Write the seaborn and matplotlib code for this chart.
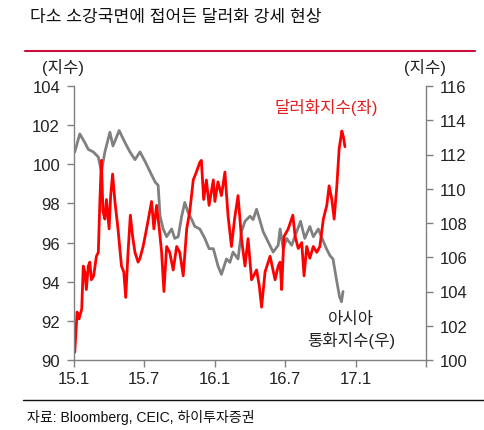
import matplotlib
matplotlib.use("Agg")
import matplotlib.pyplot as plt
import seaborn as sns
import pandas as pd

sns.set_style("white")
plt.rcParams['font.family'] = ['Liberation Sans', 'Noto Sans CJK KR', 'DejaVu Sans']

usd_dates = ["2015-01-03","2015-01-06","2015-01-09","2015-01-14","2015-01-21","2015-01-25","2015-01-29",
             "2015-02-02","2015-02-07","2015-02-11","2015-02-15","2015-02-21","2015-02-28","2015-03-05",
             "2015-03-09","2015-03-13","2015-03-17","2015-03-22","2015-03-26","2015-04-02","2015-04-06",
             "2015-04-11","2015-04-17","2015-04-25","2015-05-04","2015-05-10","2015-05-15","2015-05-21",
             "2015-05-27","2015-06-02","2015-06-08","2015-06-16","2015-06-21","2015-06-29","2015-07-08",
             "2015-07-21","2015-07-27","2015-08-03","2015-08-10","2015-08-16","2015-08-22","2015-08-29",
             "2015-09-06","2015-09-15","2015-09-24","2015-10-02","2015-10-11","2015-10-20","2015-10-28",
             "2015-11-06","2015-11-14","2015-11-23","2015-11-27","2015-12-03","2015-12-10","2015-12-17",
             "2015-12-28","2016-01-01","2016-01-09","2016-01-18","2016-01-27","2016-02-04","2016-02-13",
             "2016-02-21","2016-03-01","2016-03-10","2016-03-19","2016-03-27","2016-04-05","2016-04-18",
             "2016-04-25","2016-05-01","2016-05-10","2016-05-23","2016-06-05","2016-06-13","2016-06-18",
             "2016-06-22","2016-06-28","2016-07-09","2016-07-21","2016-07-27","2016-08-04","2016-08-13",
             "2016-08-19","2016-08-26","2016-09-03","2016-09-12","2016-09-21","2016-09-29","2016-10-08",
             "2016-10-17","2016-10-23","2016-10-30","2016-11-05","2016-11-12","2016-11-18","2016-11-25",
             "2016-11-29","2016-12-03"]
usd_vals = [90.4,91.4,92.45,92.1,92.6,94.8,94.5,
            93.6,94.8,95.0,94.1,94.3,95.3,95.5,
            98.1,100.2,97.6,97.2,98.2,96.7,98.4,
            99.5,98.1,96.7,94.8,94.5,93.2,95.5,
            97.4,96.3,95.5,95.0,95.2,95.8,96.7,
            98.1,96.7,97.9,96.7,95.5,93.5,95.8,
            95.5,94.6,95.8,95.5,94.3,96.7,97.6,
            99.2,99.6,100.1,100.2,98.2,99.2,97.9,
            99.2,98.1,99.1,98.4,99.6,97.4,95.8,
            97.2,98.4,96.2,94.8,96.2,94.1,94.6,
            93.8,92.7,94.5,95.3,94.1,94.8,95.0,
            93.6,96.3,96.7,97.4,96.3,95.7,96.0,
            94.3,95.8,95.2,95.8,95.5,95.8,97.2,
            97.9,98.9,98.2,97.2,98.9,100.8,101.7,
            101.4,100.9]

asia_dates = ["2015-01-03","2015-01-16","2015-01-29","2015-02-07","2015-02-20","2015-03-05","2015-03-13",
              "2015-03-22","2015-04-04","2015-04-12","2015-04-28","2015-05-13","2015-05-26","2015-06-08",
              "2015-06-21","2015-07-04","2015-07-17","2015-07-30","2015-08-07","2015-08-12","2015-08-20",
              "2015-08-29","2015-09-11","2015-09-19","2015-09-28","2015-10-07","2015-10-15","2015-10-24",
              "2015-11-02","2015-11-10","2015-11-23","2015-12-06","2015-12-17","2015-12-28","2016-01-09",
              "2016-01-18","2016-01-31","2016-02-09","2016-02-17","2016-03-01","2016-03-10","2016-03-19",
              "2016-04-01","2016-04-09","2016-04-18","2016-04-26","2016-05-05","2016-05-18","2016-05-31",
              "2016-06-13","2016-06-18","2016-06-26","2016-07-05","2016-07-18","2016-07-31","2016-08-10",
              "2016-08-21","2016-09-03","2016-09-12","2016-09-25","2016-10-03","2016-10-16","2016-10-25",
              "2016-11-02","2016-11-11","2016-11-19","2016-11-24","2016-11-28"]
asia_vals = [112.15,113.2,112.7,112.3,112.15,111.85,111.0,
             112.15,113.3,112.5,113.4,112.7,112.15,111.7,
             112.15,111.6,111.0,110.4,110.2,108.4,107.65,
             107.2,107.65,107.1,107.2,108.4,109.2,108.6,
             108.2,107.8,107.65,107.1,106.5,106.5,105.5,
             105.0,105.9,105.7,106.3,105.9,107.5,108.1,
             108.4,108.2,108.8,108.2,107.5,106.9,106.3,
             106.7,107.65,106.5,107.1,106.7,107.5,108.1,
             107.1,107.8,107.2,107.65,107.2,106.5,106.1,
             105.9,104.7,103.7,103.4,104.0]

x_ticks = ["2015-01-01","2015-07-01","2016-01-01","2016-07-01","2017-01-01","2017-07-01"]
x_labels = ["15.1","15.7","16.1","16.7","17.1",""]
left_ticks = [90,92,94,96,98,100,102,104]
right_ticks = [100,102,104,106,108,110,112,114,116]

usd = pd.DataFrame({"date": pd.to_datetime(usd_dates), "v": usd_vals})
asia = pd.DataFrame({"date": pd.to_datetime(asia_dates), "v": asia_vals})

fig = plt.figure(figsize=(4.85, 4.31), dpi=100)
ax = fig.add_axes([74/485, 1-361/431, (426-74)/485, (361-87)/431])
ax2 = ax.twinx()

sns.lineplot(data=asia, x="date", y="v", ax=ax2, color="#808080", linewidth=2.0)
sns.lineplot(data=usd, x="date", y="v", ax=ax, color="#FF0000", linewidth=2.0)
ax.set_zorder(ax2.get_zorder()+1)
ax.patch.set_visible(False)

ax.set_xlim(pd.Timestamp("2015-01-01"), pd.Timestamp("2017-07-01"))
ax.set_ylim(90, 104)
ax2.set_ylim(100, 116)
ax.set_yticks(left_ticks)
ax2.set_yticks(right_ticks)
ax.set_xticks(pd.to_datetime(x_ticks))
ax.set_xticklabels(x_labels)
for a in (ax, ax2):
    a.set_xlabel("")
    a.set_ylabel("")
    for s in a.spines.values():
        s.set_visible(False)
    a.tick_params(colors="#808080", labelcolor="#222222", labelsize=12, length=5, width=1)
ax.spines["left"].set_visible(True)
ax.spines["bottom"].set_visible(True)
ax2.spines["right"].set_visible(True)
for s in (ax.spines["left"], ax.spines["bottom"], ax2.spines["right"]):
    s.set_color("#808080")
    s.set_linewidth(1)
ax.tick_params(axis="y", left=True, pad=5)
ax.tick_params(axis="x", bottom=True, pad=3)
ax2.tick_params(axis="y", right=True, pad=5)
ax.grid(False); ax2.grid(False)

fig.text(30/485, 1-17/431, "다소 소강국면에 접어든 달러화 강세 현상", fontsize=12.3, color="#111111", va="center", ha="left")
fig.add_artist(plt.Line2D([25/485, 475/485], [1-52/431, 1-52/431], color="#C8103E", linewidth=1.5))
fig.text(63/485, 1-68/431, "(지수)", fontsize=12, color="#222222", ha="center", va="center")
fig.text(425/485, 1-68/431, "(지수)", fontsize=12, color="#222222", ha="center", va="center")
fig.text(326/485, 1-108/431, "달러화지수(좌)", fontsize=12, color="#E02020", ha="center", va="center")
fig.text(351/485, 1-320/431, "아시아", fontsize=12, color="#222222", ha="center", va="center")
fig.text(351/485, 1-341/431, "통화지수(우)", fontsize=12, color="#222222", ha="center", va="center")
fig.add_artist(plt.Line2D([23/485, 1.0], [1-401/431, 1-401/431], color="#111111", linewidth=1))
fig.text(27/485, 1-418/431, "자료: Bloomberg, CEIC, 하이투자증권", fontsize=10.1, color="#111111", ha="left", va="center")

fig.savefig("out.png", dpi=100, facecolor="white")
